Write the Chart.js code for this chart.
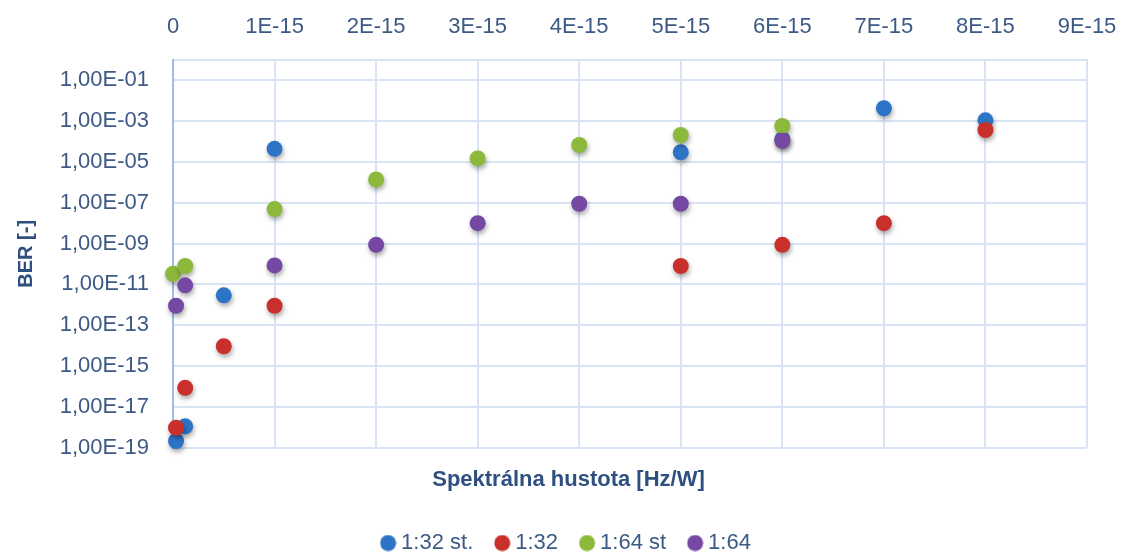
<!DOCTYPE html>
<html>
<head>
<meta charset="utf-8">
<script src="https://cdn.jsdelivr.net/npm/chart.js@4"></script>
<style>
html,body{margin:0;padding:0;background:#fff;}
#wrap{width:1122px;height:554px;position:relative;}
</style>
</head>
<body>
<div id="wrap"><canvas id="c"></canvas></div>
<script>
// ---- data ----
const seriesNames = ['1:32 st.', '1:32', '1:64 st', '1:64'];
const xBlue   = [3e-17, 1.2e-16, 5e-16, 1e-15, 5e-15, 6e-15, 7e-15, 8e-15];
const yBlue   = [2.1e-19, 1.1e-18, 2.9e-12, 4.4e-5, 3e-5, 1.3e-4, 4.3e-3, 1.1e-3];
const xRed    = [3e-17, 1.2e-16, 5e-16, 1e-15, 5e-15, 6e-15, 7e-15, 8e-15];
const yRed    = [9.5e-19, 8.5e-17, 9.3e-15, 9e-13, 8e-11, 8.7e-10, 1e-8, 3.7e-4];
const xGreen  = [0, 1.2e-16, 1e-15, 2e-15, 3e-15, 4e-15, 5e-15, 6e-15];
const yGreen  = [3.3e-11, 8e-11, 4.9e-8, 1.4e-6, 1.5e-5, 6.8e-5, 2.1e-4, 5.8e-4];
const xPurple = [3e-17, 1.2e-16, 1e-15, 2e-15, 3e-15, 4e-15, 5e-15, 6e-15];
const yPurple = [9e-13, 9e-12, 8.5e-11, 8.7e-10, 1e-8, 9e-8, 9e-8, 1.1e-4];
const yTickValues = [1e-19, 1e-17, 1e-15, 1e-13, 1e-11, 1e-9, 1e-7, 1e-5, 1e-3, 1e-1];
const xTickStep = 1e-15;
const xMax = 9e-15;

const colors = ['#2e74c6', '#c9302b', '#8cb83c', '#7548a3'];
const textColor = '#3d5a86';
const gridColor = '#d8e4f4';

function pts(xs, ys){ return xs.map((x,i)=>({x:x, y:ys[i]})); }
const allData = [pts(xBlue,yBlue), pts(xRed,yRed), pts(xGreen,yGreen), pts(xPurple,yPurple)];

function dotCanvas(color){
  const c = document.createElement('canvas');
  c.width = 17; c.height = 17;
  const g = c.getContext('2d');
  g.fillStyle = color; g.beginPath(); g.arc(8.5,8.5,8,0,Math.PI*2); g.fill();
  return c;
}
const legendDots = colors.map(dotCanvas);

const shadowPlugin = {
  id: 'shadow',
  beforeDatasetsDraw(chart){
    const ctx = chart.ctx; ctx.save();
    ctx.shadowColor = 'rgba(0,0,0,0.35)'; ctx.shadowBlur = 5; ctx.shadowOffsetX = 1; ctx.shadowOffsetY = 3;
  },
  afterDatasetsDraw(chart){ chart.ctx.restore(); }
};

function fmtY(v){
  const e = Math.round(Math.log10(v));
  const a = Math.abs(e);
  return '1,00E' + (e < 0 ? '-' : '+') + (a < 10 ? '0' + a : '' + a);
}
function fmtX(v){
  const n = Math.round(v / xTickStep);
  return n === 0 ? '0' : n + 'E-15';
}

Chart.defaults.font.family = '"Liberation Sans", Arial, sans-serif';
Chart.defaults.color = textColor;

new Chart(document.getElementById('c'), {
  type: 'scatter',
  data: {
    datasets: seriesNames.map((n,i)=>({
      label: n,
      data: allData[i],
      backgroundColor: colors[i],
      borderColor: colors[i],
      borderWidth: 0,
      pointRadius: 8,
      pointHoverRadius: 8,
      clip: false,
      order: 4 - i
    }))
  },
  options: {
    responsive: true,
    maintainAspectRatio: false,
    animation: false,
    events: [],
    layout: { padding: { left: 50, right: 35, top: 0, bottom: -10 } },
    scales: {
      x: {
        type: 'linear',
        position: 'top',
        min: 0, max: xMax,
        afterFit: s => { s.height = 60; s.paddingLeft = 0; s.paddingRight = 0; },
        ticks: { stepSize: xTickStep, callback: v => fmtX(v), font: { size: 22 }, padding: 20, color: textColor, maxRotation: 0 },
        grid: { color: gridColor, lineWidth: 2, drawTicks: false },
        border: { color: gridColor, width: 2 }
      },
      y: {
        type: 'logarithmic',
        min: 1e-19, max: 1,
        afterFit: s => { s.width = 123; },
        afterBuildTicks: s => { s.ticks = yTickValues.map(v => ({ value: v })); },
        ticks: { callback: v => fmtY(v), font: { size: 22 }, padding: 24, color: textColor, autoSkip: false },
        grid: { color: gridColor, lineWidth: 2, drawTicks: false },
        border: { color: '#9dbde6', width: 2 },
        title: { display: true, text: 'BER [-]', font: { size: 20, weight: 'bold' }, color: '#2f4f80', padding: { top: -36, bottom: 0 } }
      }
    },
    plugins: {
      tooltip: { enabled: false },
      title: {
        display: true, position: 'bottom', weight: 500,
        text: 'Spektrálna hustota [Hz/W]',
        font: { size: 22, weight: 'bold' }, color: '#2f4f80',
        padding: { top: 19, bottom: 12 }
      },
      legend: {
        position: 'bottom',
        labels: {
          usePointStyle: true,
          pointStyleWidth: 4,
          boxHeight: 11,
          padding: 27,
          font: { size: 22 },
          color: textColor,
          sort: (a, b) => a.datasetIndex - b.datasetIndex,
          generateLabels: chart => {
            const items = Chart.defaults.plugins.legend.labels.generateLabels(chart);
            items.forEach(it => { it.pointStyle = legendDots[it.datasetIndex]; });
            return items;
          }
        }
      }
    }
  },
  plugins: [shadowPlugin]
});
</script>
</body>
</html>
